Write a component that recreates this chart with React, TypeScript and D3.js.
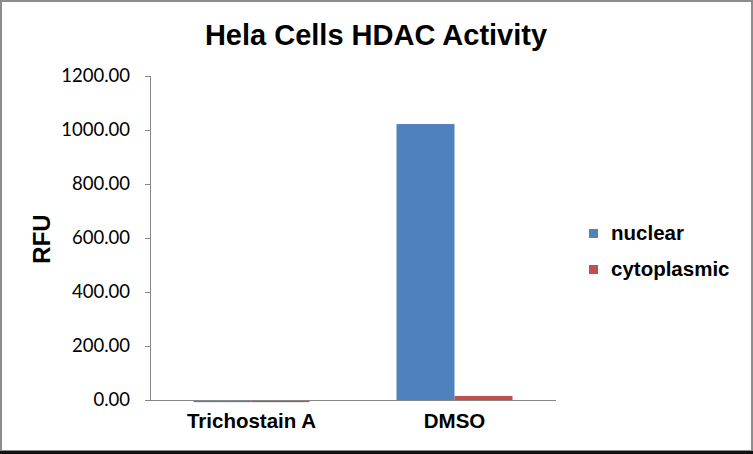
import { useEffect, useRef } from "react";
import * as d3 from "d3";

const categories = ["Trichostain A", "DMSO"];
const seriesNames = ["nuclear", "cytoplasmic"];
const seriesColors = ["#4F81BD", "#C0504D"];
const nuclearValues = [-8, 1022];
const cytoplasmicValues = [-8, 15];
const yTicks = [0, 200, 400, 600, 800, 1000, 1200];

const W = 753;
const H = 454;

export default function App() {
  const svgRef = useRef<SVGSVGElement>(null);

  useEffect(() => {
    if (!svgRef.current) return;
    const svg = d3.select(svgRef.current);
    svg.selectAll("*").remove();

    // frame
    svg.append("rect").attr("width", W).attr("height", H).attr("fill", "#fff");
    svg
      .append("rect")
      .attr("x", 1)
      .attr("y", 1)
      .attr("width", W - 2)
      .attr("height", H - 4)
      .attr("fill", "none")
      .attr("stroke", "#8c8c8c")
      .attr("stroke-width", 2);
    svg
      .append("rect")
      .attr("x", 0)
      .attr("y", H - 3)
      .attr("width", W)
      .attr("height", 3)
      .attr("fill", "#111");

    const x0 = d3
      .scaleBand<string>()
      .domain(categories)
      .range([150, 556])
      .paddingInner(0.4286)
      .paddingOuter(0.2143);
    const x1 = d3
      .scaleBand<string>()
      .domain(seriesNames)
      .range([0, x0.bandwidth()]);
    const y = d3.scaleLinear().domain([0, 1200]).range([400, 76]);

    const rows = categories.map((c, i) => ({
      cat: c,
      vals: [nuclearValues[i], cytoplasmicValues[i]],
    }));

    // bars
    const groups = svg
      .append("g")
      .selectAll("g")
      .data(rows)
      .join("g")
      .attr("transform", (d) => `translate(${x0(d.cat)},0)`);
    groups
      .selectAll("rect")
      .data((d) => d.vals.map((v, j) => ({ v, s: seriesNames[j], j })))
      .join("rect")
      .attr("x", (d) => x1(d.s)!)
      .attr("width", x1.bandwidth())
      .attr("y", (d) => Math.min(y(d.v), y(0)))
      .attr("height", (d) => Math.abs(y(d.v) - y(0)))
      .attr("fill", (d) => seriesColors[d.j]);

    // y axis
    const yAxis = svg
      .append("g")
      .attr("transform", "translate(150,0)")
      .call(
        d3
          .axisLeft(y)
          .tickValues(yTicks)
          .tickSize(5)
          .tickFormat((d) => d3.format(".2f")(d as number))
      );
    yAxis.select(".domain").attr("stroke", "#868686").attr("d", "M0.5,76V400");
    yAxis.selectAll(".tick line").attr("stroke", "#868686");
    yAxis
      .selectAll(".tick text")
      .attr("x", -20)
      .attr("font-family", "Lato, 'Open Sans', sans-serif")
      .attr("font-size", 18.5)
      .attr("fill", "#000");

    // x axis
    const xAxis = svg
      .append("g")
      .attr("transform", "translate(0,400)")
      .call(d3.axisBottom(x0).tickSize(0).tickPadding(13));
    xAxis.select(".domain").attr("stroke", "#868686").attr("d", "M150,0.5H556");
    xAxis
      .selectAll(".tick text")
      .attr("font-family", "'Liberation Sans', Arial, sans-serif")
      .attr("font-size", 20.5)
      .attr("font-weight", "bold")
      .attr("fill", "#000");

    // title
    svg
      .append("text")
      .attr("x", 376)
      .attr("y", 45)
      .attr("text-anchor", "middle")
      .attr("font-family", "'Liberation Sans', Arial, sans-serif")
      .attr("font-size", 29)
      .attr("font-weight", "bold")
      .text("Hela Cells HDAC Activity");

    // y label
    svg
      .append("text")
      .attr("transform", "translate(50,239) rotate(-90)")
      .attr("text-anchor", "middle")
      .attr("font-family", "'Liberation Sans', Arial, sans-serif")
      .attr("font-size", 24)
      .attr("font-weight", "bold")
      .text("RFU");

    // legend
    const leg = svg
      .append("g")
      .selectAll("g")
      .data(seriesNames)
      .join("g")
      .attr("transform", (_d, i) => `translate(589,${229 + i * 36})`);
    leg
      .append("rect")
      .attr("width", 9)
      .attr("height", 9)
      .attr("fill", (_d, i) => seriesColors[i]);
    leg
      .append("text")
      .attr("x", 22)
      .attr("y", 11)
      .attr("font-family", "'Liberation Sans', Arial, sans-serif")
      .attr("font-size", 20.5)
      .attr("font-weight", "bold")
      .text((d) => d);
  }, []);

  return (
    <svg
      ref={svgRef}
      width={W}
      height={H}
      style={{ position: "absolute", left: 0, top: 0 }}
    />
  );
}
